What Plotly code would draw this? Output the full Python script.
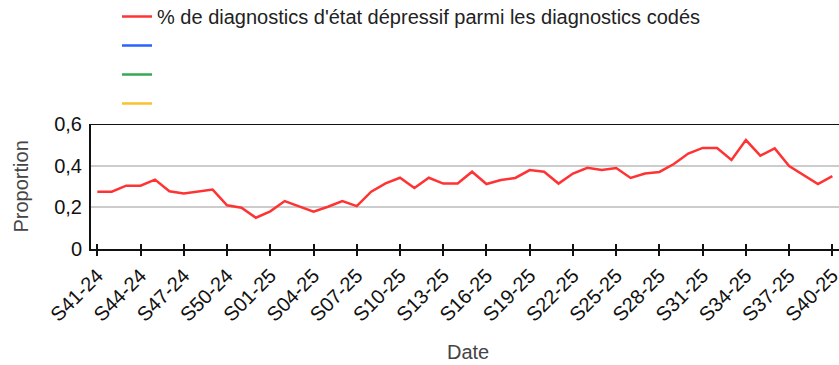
import plotly.graph_objects as go

# Weekly series, S41-24 through S40-25
weeks = [
    "S41-24", "S42-24", "S43-24", "S44-24", "S45-24", "S46-24", "S47-24", "S48-24",
    "S49-24", "S50-24", "S51-24", "S52-24",
    "S01-25", "S02-25", "S03-25", "S04-25", "S05-25", "S06-25", "S07-25", "S08-25",
    "S09-25", "S10-25", "S11-25", "S12-25", "S13-25", "S14-25", "S15-25", "S16-25",
    "S17-25", "S18-25", "S19-25", "S20-25", "S21-25", "S22-25", "S23-25", "S24-25",
    "S25-25", "S26-25", "S27-25", "S28-25", "S29-25", "S30-25", "S31-25", "S32-25",
    "S33-25", "S34-25", "S35-25", "S36-25", "S37-25", "S38-25", "S39-25", "S40-25",
]

depressif = [
    0.275, 0.275, 0.304, 0.304, 0.333, 0.277, 0.266, 0.277, 0.285, 0.210,
    0.198, 0.150, 0.181, 0.230, 0.203, 0.179, 0.203, 0.230, 0.206, 0.275,
    0.315, 0.342, 0.293, 0.342, 0.314, 0.314, 0.371, 0.312, 0.331, 0.341,
    0.379, 0.371, 0.314, 0.362, 0.390, 0.379, 0.389, 0.341, 0.362, 0.370,
    0.408, 0.458, 0.485, 0.485, 0.427, 0.523, 0.448, 0.483, 0.398, 0.355,
    0.312, 0.350,
]

series_names = ["% de diagnostics d'état dépressif parmi les diagnostics codés", " ", " ", " "]
series_colors = ["#ff3333", "#2962ff", "#34a853", "#fbc02d"]
series_values = [depressif, [None] * len(weeks), [None] * len(weeks), [None] * len(weeks)]

tick_labels = weeks[::3]
y_ticks = [0, 0.2, 0.4, 0.6]
y_tick_text = ["0", "0,2", "0,4", "0,6"]

FONT = "Liberation Sans, Arial, sans-serif"
FS = 20

fig = go.Figure()
for i, (name, color, vals) in enumerate(zip(series_names, series_colors, series_values)):
    fig.add_trace(go.Scatter(
        x=weeks, y=vals, name=name, mode="lines",
        line=dict(color=color, width=2.5),
        legendgroup=f"g{i}", showlegend=True,
        hovertemplate="%{x}: %{y}<extra></extra>",
    ))

# Invisible trace to bind the duplicate tick axis
fig.add_trace(go.Scatter(x=weeks, y=[None] * len(weeks), xaxis="x2", showlegend=False,
                         hoverinfo="skip"))

# Frame line along the top of the plotting area
fig.add_shape(type="line", xref="paper", yref="y", x0=0, x1=1, y0=0.6, y1=0.6,
              line=dict(color="#111111", width=2), layer="above")

# Axis titles
fig.add_annotation(text="Proportion", textangle=-90, xref="paper", yref="paper",
                   x=-(91 - 20) / 748, y=0.5, xanchor="center", yanchor="middle",
                   showarrow=False, font=dict(family=FONT, size=FS, color="#444444"))
fig.add_annotation(text="Date", xref="paper", yref="paper",
                   x=(468 - 91) / 748, y=-(352 - 249) / 125, xanchor="center", yanchor="middle",
                   showarrow=False, font=dict(family=FONT, size=FS, color="#444444"))

fig.update_layout(
    width=839, height=365,
    margin=dict(l=91, r=0, t=124, b=116, autoexpand=False),
    paper_bgcolor="white", plot_bgcolor="white",
    separators=", ",
    font=dict(family=FONT, size=FS, color="#222222"),
    showlegend=True,
    legend=dict(
        xref="container", yref="paper",
        x=117 / 839, y=1 + (124 + 3) / 125, xanchor="left", yanchor="top",
        orientation="v", tracegroupgap=0,
        font=dict(family=FONT, size=FS, color="#222222"),
        bgcolor="rgba(0,0,0,0)",
    ),
    xaxis=dict(
        type="category",
        categoryorder="array", categoryarray=weeks,
        range=[-0.44, 51.46],
        tickmode="array", tickvals=tick_labels, ticktext=tick_labels,
        tickangle=-45,
        tickfont=dict(family=FONT, size=FS, color="#111111"),
        ticks="outside", ticklen=5, tickwidth=1.5, tickcolor="#111111",
        showline=True, linecolor="#111111", linewidth=2,
        showgrid=False, zeroline=False,
    ),
    # Duplicate axis carrying the inward half of the crossing tick marks
    xaxis2=dict(
        type="category", overlaying="x", side="bottom",
        categoryorder="array", categoryarray=weeks,
        range=[-0.44, 51.46],
        tickmode="array", tickvals=tick_labels,
        ticks="inside", ticklen=5, tickwidth=1.5, tickcolor="#111111",
        showline=False, showgrid=False, zeroline=False, showticklabels=False,
    ),
    yaxis=dict(
        range=[0, 0.6],
        tickmode="array", tickvals=y_ticks, ticktext=y_tick_text,
        tickfont=dict(family=FONT, size=FS, color="#111111"),
        ticks="outside", ticklen=3, tickcolor="rgba(0,0,0,0)",
        showline=True, linecolor="#111111", linewidth=2,
        showgrid=True, gridcolor="#cccccc", gridwidth=2,
        zeroline=False,
    ),
)

fig.write_html("out.html")
